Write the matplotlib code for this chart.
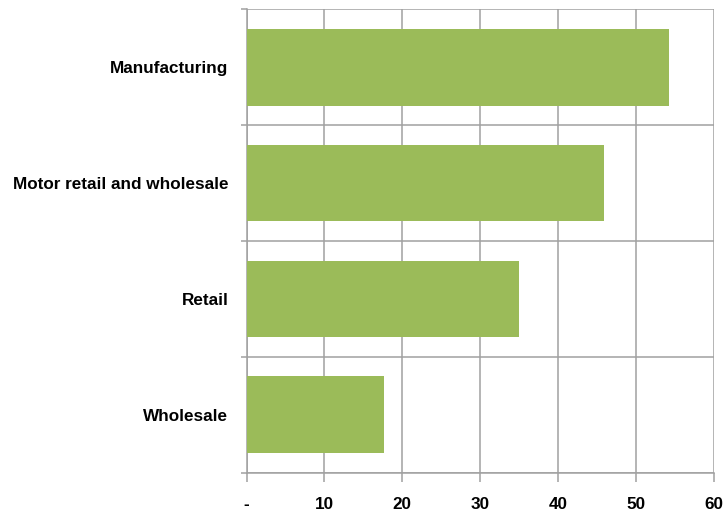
import matplotlib.pyplot as plt

# Data
sectors = ["Manufacturing", "Motor retail and wholesale", "Retail", "Wholesale"]
values = [54.2, 45.9, 35.0, 17.6]
x_ticks = [0, 10, 20, 30, 40, 50, 60]
x_labels = ["-", "10", "20", "30", "40", "50", "60"]

plt.rcParams["font.family"] = ["Liberation Sans", "DejaVu Sans"]

fig = plt.figure(figsize=(7.25, 5.15), dpi=100)
ax = fig.add_axes([0.34, 0.0825, 0.6448, 0.8991])

ypos = list(range(len(sectors)))[::-1]
ax.barh(ypos, values, height=0.66, color="#9BBB59", zorder=3)

ax.set_xlim(0, 60)
ax.set_ylim(-0.5, len(sectors) - 0.5)

ax.set_xticks(x_ticks)
ax.set_xticklabels(x_labels, fontsize=12.3, fontweight="bold")
ax.set_yticks(ypos)
ax.set_yticklabels(sectors, fontsize=12.3, fontweight="bold")
ax.set_yticks([i - 0.5 for i in range(len(sectors) + 1)], minor=True)

grid_c = "#A0A0A0"
ax.grid(axis="x", which="major", color=grid_c, linewidth=1.1, zorder=0)
ax.grid(axis="y", which="minor", color=grid_c, linewidth=1.1, zorder=0)
ax.tick_params(axis="y", which="major", length=0, pad=13)
ax.tick_params(axis="y", which="minor", length=4.5, color=grid_c, width=1.1)
ax.tick_params(axis="x", length=6.5, color=grid_c, width=1.1, pad=11)

for side in ["left", "bottom"]:
    ax.spines[side].set_color(grid_c)
    ax.spines[side].set_linewidth(1.1)
ax.spines["right"].set_visible(False)
ax.spines["top"].set_visible(False)

fig.savefig("out.png", dpi=100)
